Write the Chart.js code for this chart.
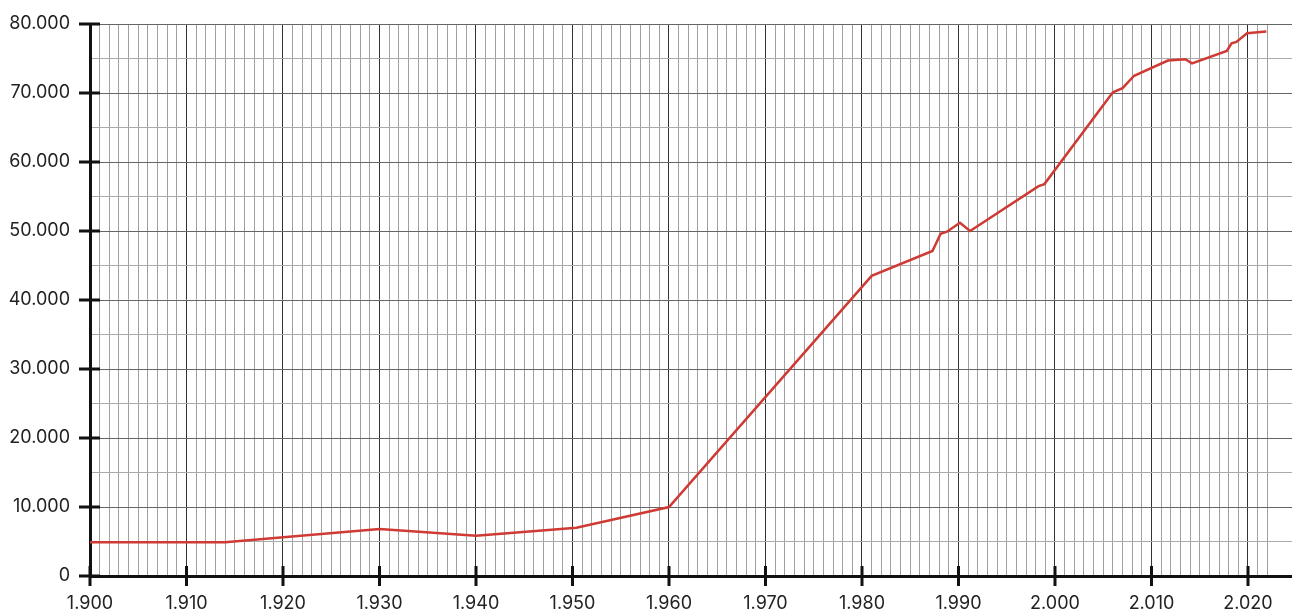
<!DOCTYPE html>
<html>
<head>
<meta charset="utf-8">
<script src="https://cdn.jsdelivr.net/npm/chart.js@4/dist/chart.umd.min.js"></script>
<style>
  html, body { margin: 0; padding: 0; background: #fff; }
  #wrap { width: 1292px; height: 611px; position: relative; }
</style>
</head>
<body>
<div id="wrap"><canvas id="popChart"></canvas></div>
<script>
// Population over time
const years = [1900, 1914, 1930, 1940, 1950.4, 1960, 1981, 1987.3, 1988.15, 1988.8, 1990.15, 1991.2,
    1998.3, 1998.9, 2006, 2007, 2008.2, 2011.7, 2013.5, 2014.2, 2017.8, 2018.3, 2018.8, 2019.9, 2021.9];
const population = [4900, 4900, 6800, 5850, 7000, 10000, 43500, 47100, 49600, 49900, 51200, 50000,
    56500, 56800, 70100, 70700, 72500, 74700, 74900, 74300, 76100, 77200, 77400, 78650, 78900];

// grid: one vertical line per year, labels every decade
const xGridYears = [];
for (let y = 1900; y <= 2022; y++) xGridYears.push(y);
const xTickValues = [1900, 1910, 1920, 1930, 1940, 1950, 1960, 1970, 1980, 1990, 2000, 2010, 2020];
const xTickLabels = ['1.900', '1.910', '1.920', '1.930', '1.940', '1.950', '1.960', '1.970', '1.980',
    '1.990', '2.000', '2.010', '2.020'];

const yGridValues = [];
for (let v = 0; v <= 80000; v += 5000) yGridValues.push(v);
const yTickValues = [0, 10000, 20000, 30000, 40000, 50000, 60000, 70000, 80000];
const yTickLabels = ['0', '10.000', '20.000', '30.000', '40.000', '50.000', '60.000', '70.000', '80.000'];

// tick marks crossing the axes
const crossTicks = {
    id: 'crossTicks',
    afterDraw(chart) {
        const { ctx, chartArea, scales } = chart;
        ctx.save();
        ctx.strokeStyle = '#111';
        ctx.lineWidth = 3;
        ctx.beginPath();
        yTickValues.forEach(v => {
            const py = scales.y.getPixelForValue(v);
            ctx.moveTo(chartArea.left - 11, py);
            ctx.lineTo(chartArea.left + 10, py);
        });
        xTickValues.forEach(v => {
            const px = scales.x.getPixelForValue(v);
            ctx.moveTo(px, chartArea.bottom - 10);
            ctx.lineTo(px, chartArea.bottom + 10);
        });
        ctx.stroke();
        ctx.restore();
    }
};

const tickFont = { family: 'Inter, "DejaVu Sans", sans-serif', size: 18 };

new Chart(document.getElementById('popChart'), {
    type: 'line',
    data: {
        datasets: [{
            data: years.map((yr, i) => ({ x: yr, y: population[i] })),
            borderColor: '#cf3a34',
            borderWidth: 2.5,
            pointRadius: 0,
            tension: 0,
            clip: false
        }]
    },
    options: {
        responsive: true,
        maintainAspectRatio: false,
        animation: false,
        layout: { padding: { top: 24, right: 0, left: 0, bottom: 0 } },
        plugins: { legend: { display: false }, tooltip: { enabled: false } },
        scales: {
            x: {
                type: 'linear',
                min: 1900,
                max: 2024.56,
                afterBuildTicks: axis => { axis.ticks = xGridYears.map(v => ({ value: v })); },
                afterFit: axis => {
                    axis.height = 35;
                    axis.paddingLeft = 0;
                    axis.paddingRight = 0;
                },
                border: { color: '#111', width: 3 },
                grid: {
                    drawTicks: false,
                    color: c => (c.tick && c.tick.value % 10 === 0) ? '#333' : '#a0a0a0',
                    lineWidth: 1
                },
                ticks: {
                    autoSkip: false,
                    maxRotation: 0,
                    padding: 17,
                    color: '#222',
                    font: tickFont,
                    callback: v => {
                        const i = xTickValues.indexOf(v);
                        return i >= 0 ? xTickLabels[i] : '';
                    }
                }
            },
            y: {
                min: 0,
                max: 80000,
                afterBuildTicks: axis => { axis.ticks = yGridValues.map(v => ({ value: v })); },
                afterFit: axis => {
                    axis.width = 90;
                    axis.paddingTop = 0;
                    axis.paddingBottom = 0;
                },
                border: { color: '#111', width: 3 },
                grid: {
                    drawTicks: false,
                    color: c => (c.tick && c.tick.value % 10000 === 0) ? '#666' : '#aaa',
                    lineWidth: 1
                },
                ticks: {
                    autoSkip: false,
                    padding: 20,
                    color: '#222',
                    font: tickFont,
                    callback: v => {
                        const i = yTickValues.indexOf(v);
                        return i >= 0 ? yTickLabels[i] : '';
                    }
                }
            }
        }
    },
    plugins: [crossTicks]
});
</script>
</body>
</html>
